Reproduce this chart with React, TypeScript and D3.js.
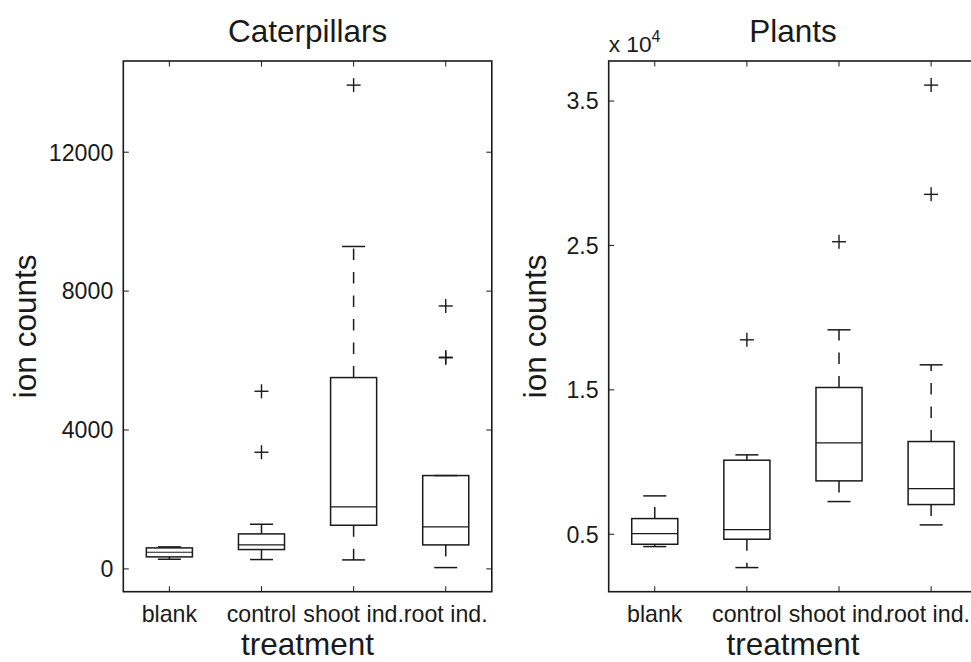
import React from "react";
import * as d3 from "d3";

const categories = ["blank", "control", "shoot ind.", "root ind."];

// Caterpillars
const catLower = [278, 269, 259, 38];
const catQ1 = [346, 557, 1257, 691];
const catMedian = [480, 691, 1785, 1209];
const catQ3 = [605, 1008, 5510, 2688];
const catUpper = [634, 1286, 9285, 2688];
const catOutliers = [[], [3360, 5116], [13932], [6080, 6095, 7572]];
const catTicks = [0, 4000, 8000, 12000];
const catTickLabels = ["0", "4000", "8000", "12000"];

// Plants
const plantLower = [4145, 2691, 7263, 5647];
const plantQ1 = [4307, 4654, 8695, 7055];
const plantMedian = [5046, 5323, 11328, 8164];
const plantQ3 = [6085, 10127, 15162, 11420];
const plantUpper = [7656, 10497, 19157, 16732];
const plantOutliers = [[], [18464], [25256], [28538, 36103]];
const plantTicks = [5000, 15000, 25000, 35000];
const plantTickLabels = ["0.5", "1.5", "2.5", "3.5"];

const FONT = "'Liberation Sans', Arial, Helvetica, sans-serif";
const INK = "#1a1a1a";
const TICK_FS = 23.2;
const LABEL_FS = 31.5;
const W = 971;
const H = 662;

let measureCtx: CanvasRenderingContext2D | null = null;
function textWidth(s: string, size: number): number {
  if (!measureCtx) {
    const c = document.createElement("canvas");
    measureCtx = c.getContext("2d");
  }
  if (!measureCtx) return s.length * size * 0.5;
  measureCtx.font = `${size}px ${FONT}`;
  return measureCtx.measureText(s).width;
}

type PanelProps = {
  x0: number; x1: number; y0: number; y1: number;
  title: string;
  lower: number[]; q1: number[]; med: number[]; q3: number[]; upper: number[];
  outliers: number[][];
  yTicks: number[]; yTickLabels: string[];
  ylabelX: number;
  exponent?: boolean;
};

function Panel(p: PanelProps) {
  const all = [...p.lower, ...p.upper, ...p.outliers.flat()];
  const mn = d3.min(all) as number;
  const mx = d3.max(all) as number;
  const pad = 0.05 * (mx - mn);
  const y = d3.scaleLinear().domain([mn - pad, mx + pad]).range([p.y1, p.y0]);
  const x = d3.scaleLinear().domain([0.5, categories.length + 0.5]).range([p.x0, p.x1]);
  const boxHalf = x(0.25) - x(0);
  const capHalf = x(0.125) - x(0);
  const tickLen = 5.5;
  const plus = 7;
  const cx = (p.x0 + p.x1) / 2;
  const cy = (p.y0 + p.y1) / 2;
  const sw = 1.5;

  return (
    <g>
      {categories.map((c, i) => {
        const xc = x(i + 1);
        return (
          <g key={c}>
            <line x1={xc} x2={xc} y1={y(p.q3[i])} y2={y(p.upper[i])} stroke={INK} strokeWidth={sw} strokeDasharray="11.5 12" />
            <line x1={xc} x2={xc} y1={y(p.q1[i])} y2={y(p.lower[i])} stroke={INK} strokeWidth={sw} strokeDasharray="11.5 12" />
            <line x1={xc - capHalf} x2={xc + capHalf} y1={y(p.upper[i])} y2={y(p.upper[i])} stroke={INK} strokeWidth={sw} />
            <line x1={xc - capHalf} x2={xc + capHalf} y1={y(p.lower[i])} y2={y(p.lower[i])} stroke={INK} strokeWidth={sw} />
            <rect x={xc - boxHalf} y={y(p.q3[i])} width={2 * boxHalf} height={y(p.q1[i]) - y(p.q3[i])} fill="none" stroke={INK} strokeWidth={sw} />
            <line x1={xc - boxHalf} x2={xc + boxHalf} y1={y(p.med[i])} y2={y(p.med[i])} stroke={INK} strokeWidth={1.2} />
            {p.outliers[i].map((v, j) => (
              <g key={j}>
                <line x1={xc - plus} x2={xc + plus} y1={y(v)} y2={y(v)} stroke={INK} strokeWidth={1.4} />
                <line x1={xc} x2={xc} y1={y(v) - plus} y2={y(v) + plus} stroke={INK} strokeWidth={1.4} />
              </g>
            ))}
          </g>
        );
      })}
      <rect x={p.x0} y={p.y0} width={p.x1 - p.x0} height={p.y1 - p.y0} fill="none" stroke={INK} strokeWidth={1.6} />
      {p.yTicks.map((t, i) => (
        <g key={t}>
          <line x1={p.x0} x2={p.x0 + tickLen} y1={y(t)} y2={y(t)} stroke={INK} strokeWidth={1} />
          <line x1={p.x1} x2={p.x1 - tickLen} y1={y(t)} y2={y(t)} stroke={INK} strokeWidth={1} />
          <text x={p.x0 - 10} y={y(t)} dy="0.36em" textAnchor="end" fontSize={TICK_FS} fontFamily={FONT} fill={INK}>
            {p.yTickLabels[i]}
          </text>
        </g>
      ))}
      {categories.map((c, i) => {
        const half = textWidth(c, TICK_FS) / 2;
        const lx = Math.min(x(i + 1), W - 1 - half);
        return (
          <g key={c}>
            <line x1={x(i + 1)} x2={x(i + 1)} y1={p.y1} y2={p.y1 - tickLen} stroke={INK} strokeWidth={1} />
            <line x1={x(i + 1)} x2={x(i + 1)} y1={p.y0} y2={p.y0 + tickLen} stroke={INK} strokeWidth={1} />
            <text x={lx} y={p.y1 + 30} textAnchor="middle" fontSize={TICK_FS} fontFamily={FONT} fill={INK}>
              {c}
            </text>
          </g>
        );
      })}
      <text x={cx} y={p.y1 + 63.5} textAnchor="middle" fontSize={LABEL_FS} fontFamily={FONT} fill={INK}>treatment</text>
      <text x={cx} y={p.y0 - 19} textAnchor="middle" fontSize={LABEL_FS} fontFamily={FONT} fill={INK}>{p.title}</text>
      <text transform={`translate(${p.ylabelX},${cy}) rotate(-90)`} textAnchor="middle" fontSize={LABEL_FS} fontFamily={FONT} fill={INK}>ion counts</text>
      {p.exponent && (
        <text x={p.x0} y={p.y0 - 8.7} fontSize={22.7} fontFamily={FONT} fill={INK}>
          x 10<tspan fontSize={16} dy={-10}>4</tspan>
        </text>
      )}
    </g>
  );
}

export default function App() {
  return (
    <svg width={W} height={H} style={{ position: "absolute", left: 0, top: 0, display: "block", background: "#fff" }}>
      <rect x={0} y={0} width={W} height={H} fill="#fff" />
      <Panel
        x0={123.3} x1={491.8} y0={61} y1={591.7}
        title="Caterpillars"
        lower={catLower} q1={catQ1} med={catMedian} q3={catQ3} upper={catUpper}
        outliers={catOutliers}
        yTicks={catTicks} yTickLabels={catTickLabels}
        ylabelX={36}
      />
      <Panel
        x0={608.7} x1={977.2} y0={61} y1={591.7}
        title="Plants"
        lower={plantLower} q1={plantQ1} med={plantMedian} q3={plantQ3} upper={plantUpper}
        outliers={plantOutliers}
        yTicks={plantTicks} yTickLabels={plantTickLabels}
        ylabelX={546}
        exponent
      />
    </svg>
  );
}
